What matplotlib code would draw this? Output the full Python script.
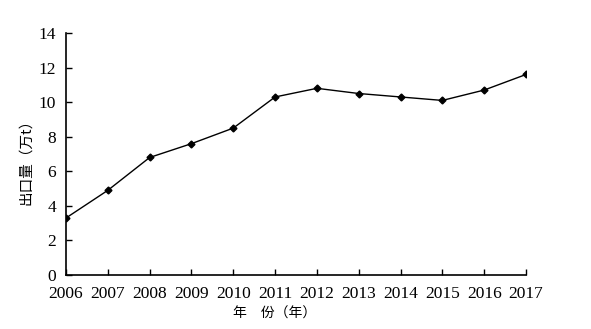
import matplotlib
matplotlib.use("Agg")
import matplotlib.pyplot as plt

years = [2006, 2007, 2008, 2009, 2010, 2011, 2012, 2013, 2014, 2015, 2016, 2017]
export_volume = [3.3, 4.9, 6.8, 7.6, 8.5, 10.3, 10.8, 10.5, 10.3, 10.1, 10.7, 11.6]
y_ticks = [0, 2, 4, 6, 8, 10, 12, 14]

plt.rcParams['font.family'] = ['Liberation Serif', 'Noto Sans CJK SC']

fig = plt.figure(figsize=(5.91, 3.29), dpi=100)
ax = fig.add_axes([0.1117, 0.164, 0.890 - 0.1117, 0.8997 - 0.164])

ax.plot(years, export_volume, color='black', lw=1.0, marker='D', markersize=3.5)

ax.set_xlim(years[0], years[-1])
ax.set_ylim(0, 14)
ax.set_xticks(years)
ax.set_xticklabels([str(y) for y in years])
ax.set_yticks(y_ticks)

for s in ['top', 'right']:
    ax.spines[s].set_visible(False)
for s in ['left', 'bottom']:
    ax.spines[s].set_linewidth(1.2)

ax.tick_params(axis='both', direction='in', length=4, width=1, labelsize=12.5, colors='black')
ax.tick_params(axis='x', pad=8)
ax.tick_params(axis='y', pad=7)

fig.text(275 / 591, 1 - 314 / 329, '年\u3000份（年）', ha='center', va='center', fontsize=10,
         family=['Noto Sans CJK SC', 'Liberation Serif'])
fig.text(26 / 591, 1 - 158 / 329, '出口量（万t）', ha='center', va='center', fontsize=10.5,
         rotation=90, family=['Noto Sans CJK SC', 'Liberation Serif'])

fig.savefig('out.png', dpi=100)
